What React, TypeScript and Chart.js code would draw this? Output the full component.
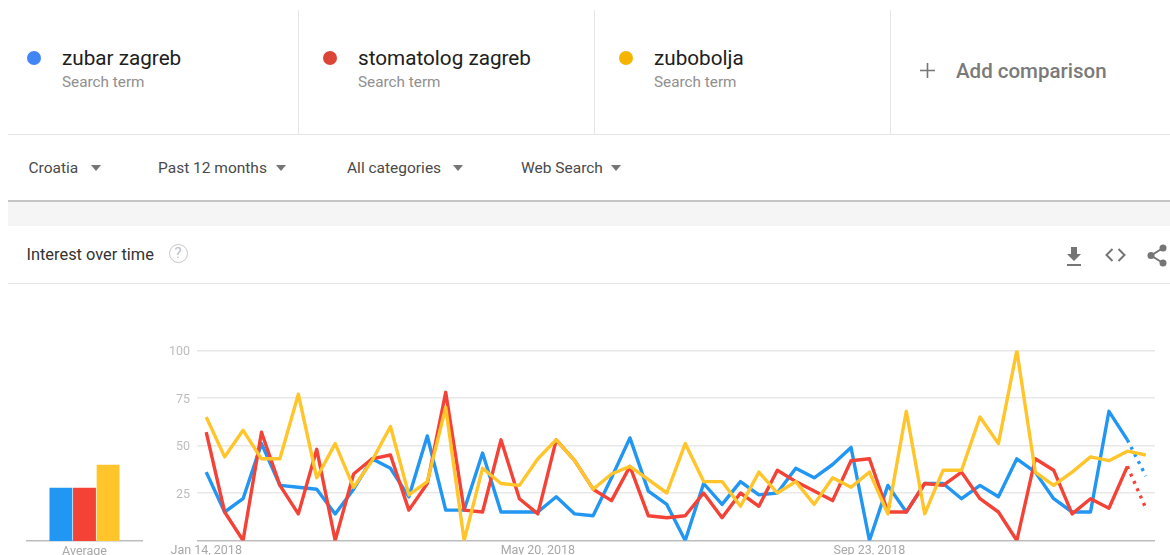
import React, { useEffect, useRef } from "react";
import { Chart, registerables } from "chart.js";

Chart.register(...registerables);

const weeks = [
  "Jan 14, 2018", "Jan 21, 2018", "Jan 28, 2018", "Feb 4, 2018", "Feb 11, 2018", "Feb 18, 2018", "Feb 25, 2018",
  "Mar 4, 2018", "Mar 11, 2018", "Mar 18, 2018", "Mar 25, 2018", "Apr 1, 2018", "Apr 8, 2018", "Apr 15, 2018",
  "Apr 22, 2018", "Apr 29, 2018", "May 6, 2018", "May 13, 2018", "May 20, 2018", "May 27, 2018", "Jun 3, 2018",
  "Jun 10, 2018", "Jun 17, 2018", "Jun 24, 2018", "Jul 1, 2018", "Jul 8, 2018", "Jul 15, 2018", "Jul 22, 2018",
  "Jul 29, 2018", "Aug 5, 2018", "Aug 12, 2018", "Aug 19, 2018", "Aug 26, 2018", "Sep 2, 2018", "Sep 9, 2018",
  "Sep 16, 2018", "Sep 23, 2018", "Sep 30, 2018", "Oct 7, 2018", "Oct 14, 2018", "Oct 21, 2018", "Oct 28, 2018",
  "Nov 4, 2018", "Nov 11, 2018", "Nov 18, 2018", "Nov 25, 2018", "Dec 2, 2018", "Dec 9, 2018", "Dec 16, 2018",
  "Dec 23, 2018", "Dec 30, 2018", "Jan 6, 2019",
];
const shownWeeks = ["Jan 14, 2018", "May 20, 2018", "Sep 23, 2018"];
const shownValues = [25, 50, 75, 100];

const zubarZagreb = [
  36, 15, 22, 51, 29, 28, 27, 14, 27, 43, 38, 23, 55, 16, 16, 46, 15, 15, 15, 23, 14, 13, 33, 54, 26, 19,
  0, 30, 19, 31, 24, 25, 38, 33, 40, 49, 0, 29, 15, 30, 30, 22, 29, 23, 43, 36, 22, 15, 15, 68, 53, 34,
];
const stomatologZagreb = [
  57, 15, 0, 57, 29, 14, 48, 0, 35, 43, 45, 16, 30, 78, 16, 15, 53, 22, 14, 53, 42, 27, 21, 39, 13, 12,
  13, 25, 12, 25, 18, 37, 31, 26, 21, 42, 43, 15, 15, 30, 29, 36, 22, 15, 0, 43, 37, 14, 22, 17, 39, 17,
];
const zubobolja = [
  65, 44, 58, 43, 43, 77, 33, 51, 28, 42, 60, 24, 31, 70, 0, 38, 30, 29, 43, 53, 42, 27, 35, 39, 32, 25,
  51, 31, 31, 18, 36, 25, 31, 19, 33, 28, 36, 14, 68, 14, 37, 37, 65, 51, 100, 36, 29, 36, 44, 42, 47, 45,
];
const averages = [28, 28, 40];

const termNames = ["zubar zagreb", "stomatolog zagreb", "zubobolja"];
const dotColors = ["#4285F4", "#DB4437", "#F4B400"];
const lineColors = ["#2196F3", "#F44336", "#FFC52A"];
const filterNames = ["Croatia", "Past 12 months", "All categories", "Web Search"];

const FONT = "Roboto, sans-serif";
const GRID = "#e8e8e8";
const AXIS = "#bdbdbd";
const TICK = "#bdbdbd";

const abs = (left: number, top: number, extra: React.CSSProperties = {}): React.CSSProperties => ({
  position: "absolute",
  left,
  top,
  whiteSpace: "nowrap",
  ...extra,
});

function LineChart() {
  const ref = useRef<HTMLCanvasElement>(null);
  useEffect(() => {
    const dashed = (c: any) => (c.p1DataIndex === 51 ? [3, 5] : undefined);
    const chart = new Chart(ref.current!, {
      type: "line",
      data: {
        labels: weeks,
        datasets: [
          { label: termNames[0], data: zubarZagreb, borderColor: lineColors[0], order: 3, segment: { borderDash: dashed } },
          { label: termNames[1], data: stomatologZagreb, borderColor: lineColors[1], order: 2, segment: { borderDash: dashed } },
          { label: termNames[2], data: zubobolja, borderColor: lineColors[2], order: 1 },
        ],
      },
      options: {
        animation: false,
        responsive: false,
        layout: { padding: { top: 20.5, right: 15, left: 0, bottom: 0 } },
        elements: { point: { radius: 0 }, line: { borderWidth: 3.4, tension: 0, borderJoinStyle: "round" } },
        plugins: { legend: { display: false }, tooltip: { enabled: false } },
        scales: {
          x: {
            offset: true,
            grid: { display: false, drawTicks: false },
            border: { display: false },
            afterFit: (s: any) => { s.height = 14; },
            ticks: {
              autoSkip: false,
              maxRotation: 0,
              padding: 3,
              color: "#a8a8a8",
              font: { family: FONT, size: 12.5 },
              callback: (_v: any, i: number) => (shownWeeks.includes(weeks[i]) ? weeks[i] : ""),
            },
          },
          y: {
            min: 0,
            max: 100,
            afterFit: (s: any) => { s.width = 37; },
            border: { display: false },
            grid: {
              drawTicks: false,
              lineWidth: 1.5,
              color: (c: any) => (c.tick.value === 0 ? AXIS : GRID),
            },
            ticks: {
              stepSize: 25,
              padding: 7,
              labelOffset: 1.5,
              color: TICK,
              font: { family: FONT, size: 12.5 },
              callback: (v: any) => (shownValues.includes(v) ? String(v) : ""),
            },
          },
        },
      },
    });
    return () => chart.destroy();
  }, []);
  return <canvas ref={ref} width={1010} height={225} style={abs(160, 330, { width: 1010, height: 225, display: "block" })} />;
}

function AverageChart() {
  const ref = useRef<HTMLCanvasElement>(null);
  useEffect(() => {
    const chart = new Chart(ref.current!, {
      type: "bar",
      data: {
        labels: ["Average"],
        datasets: termNames.map((name, i) => ({
          label: name,
          data: [averages[i]],
          backgroundColor: lineColors[i],
          barPercentage: 0.97,
          categoryPercentage: 0.615,
        })),
      },
      options: {
        animation: false,
        responsive: false,
        layout: { padding: { top: 20.5, left: 27, right: 28, bottom: 0 } },
        plugins: { legend: { display: false }, tooltip: { enabled: false } },
        scales: {
          x: {
            afterFit: (s: any) => { s.height = 14; },
            grid: { display: false, drawTicks: false },
            border: { display: true, color: AXIS, width: 1.5 },
            ticks: { padding: 3, color: "#a8a8a8", font: { family: FONT, size: 12.5 }, maxRotation: 0 },
          },
          y: { min: 0, max: 100, display: false },
        },
      },
    });
    return () => chart.destroy();
  }, []);
  return <canvas ref={ref} width={170} height={225} style={abs(0, 330, { width: 170, height: 225, display: "block" })} />;
}

const termX = [62, 358, 654];
const dotX = [34, 330, 626];
const filterX = [28.5, 158, 347, 521];
const arrowX = [96, 281, 458, 616];
const dividerX = [298, 594, 890];

export default function App() {
  return (
    <div style={abs(0, 0, { width: 1170, height: 555, overflow: "hidden", background: "#fff", fontFamily: FONT })}>
      {dividerX.map((x) => (
        <div key={x} style={abs(x, 10, { width: 1, height: 124, background: "#e6e6e6" })} />
      ))}
      <div style={abs(8, 134, { width: 1162, height: 1, background: "#e4e4e4" })} />
      {termNames.map((t, i) => (
        <React.Fragment key={t}>
          <div style={abs(dotX[i] - 7, 51, { width: 14, height: 14, borderRadius: "50%", background: dotColors[i] })} />
          <div style={abs(termX[i], 46, { fontSize: 20.7, lineHeight: "24px", color: "#202020" })}>{t}</div>
          <div style={abs(termX[i], 73, { fontSize: 15.3, lineHeight: "18px", color: "#8f8f8f" })}>Search term</div>
        </React.Fragment>
      ))}
      <svg style={abs(919, 62, {})} width={17} height={17}>
        <path d="M8.5 1v15M1 8.5h15" stroke="#757575" strokeWidth={1.6} fill="none" />
      </svg>
      <div style={abs(956, 59, { fontSize: 20.5, lineHeight: "24px", fontWeight: 500, color: "#7a7a7a" })}>Add comparison</div>

      {filterNames.map((f, i) => (
        <React.Fragment key={f}>
          <div style={abs(filterX[i], 159, { fontSize: 15.5, lineHeight: "18px", color: "#4a4a4a" })}>{f}</div>
          <div
            style={abs(arrowX[i] - 5.5, 165, {
              width: 0,
              height: 0,
              borderLeft: "5.5px solid transparent",
              borderRight: "5.5px solid transparent",
              borderTop: "6px solid #757575",
            })}
          />
        </React.Fragment>
      ))}
      <div style={abs(8, 200, { width: 1162, height: 2, background: "#c4c4c4" })} />
      <div style={abs(8, 202, { width: 1162, height: 24, background: "#f5f5f5" })} />

      <div style={abs(26.5, 245, { fontSize: 16.4, lineHeight: "20px", color: "#333" })}>Interest over time</div>
      <div
        style={abs(168.5, 243.5, {
          width: 17,
          height: 17,
          border: "1.5px solid #c8c8c8",
          borderRadius: "50%",
          color: "#c0c0c0",
          fontSize: 15,
          lineHeight: "17px",
          textAlign: "center",
        })}
      >
        ?
      </div>
      <svg style={abs(1064, 245, {})} width={20} height={22}>
        <path d="M7 2h6v7h4l-7 7-7-7h4z M3 19h14v2H3z" fill="#757575" />
      </svg>
      <svg style={abs(1105, 247, {})} width={21} height={16}>
        <path d="M7.5 2L1.5 8l6 6M13.5 2l6 6-6 6" stroke="#757575" strokeWidth={2} fill="none" />
      </svg>
      <svg style={abs(1146, 244, {})} width={22} height={23}>
        <path d="M17 4L5 11.5 17 19" stroke="#757575" strokeWidth={2} fill="none" />
        <circle cx={17} cy={4} r={3.5} fill="#757575" />
        <circle cx={5} cy={11.5} r={3.5} fill="#757575" />
        <circle cx={17} cy={19} r={3.5} fill="#757575" />
      </svg>
      <div style={abs(8, 283, { width: 1162, height: 1, background: "#e6e6e6" })} />

      <AverageChart />
      <LineChart />
    </div>
  );
}
